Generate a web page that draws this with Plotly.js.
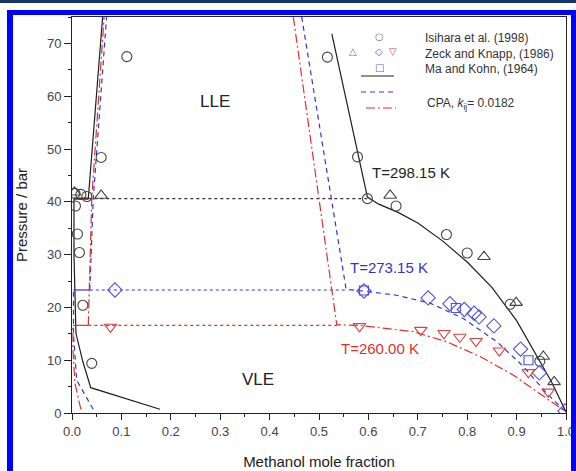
<!DOCTYPE html>
<html>
<head>
<meta charset="utf-8">
<script src="https://cdn.plot.ly/plotly-3.0.1.min.js"></script>
<style>
  html, body { margin: 0; padding: 0; background: #fff; }
  #wrap { position: relative; width: 576px; height: 471px; overflow: hidden; }
  #chart { position: absolute; left: 0; top: 0; width: 576px; height: 471px; }
  #navy { position: absolute; left: 0; top: 0; width: 576px; height: 3px; background: #12376a; z-index: 5; }
  #frame { position: absolute; left: 7px; top: 10px; width: 569px; height: 480px; box-sizing: border-box;
           border-left: 6px solid #0000ff; border-top: 5px solid #0000ff; border-right: 5px solid #0000ff; z-index: 5; pointer-events: none; }
</style>
</head>
<body>
<div id="wrap">
  <div id="chart"></div>
  <div id="navy"></div>
  <div id="frame"></div>
</div>
<script>
// ---------- Experimental data ----------
const isiharaX = [0.111, 0.059, 0.006, 0.018, 0.030, 0.007, 0.011, 0.015, 0.022, 0.040, 0.517, 0.578, 0.598, 0.656, 0.758, 0.800, 0.887, 0.947];
const isiharaP = [67.5, 48.4, 41.6, 41.4, 41.0, 39.2, 33.9, 30.4, 20.4, 9.4, 67.4, 48.5, 40.6, 39.2, 33.8, 30.3, 20.6, 9.8];

const zeck298X = [0.005, 0.059, 0.644, 0.834, 0.899, 0.954, 0.976];
const zeck298P = [41.8, 41.2, 41.2, 29.6, 20.9, 10.7, 5.9];

const zeck273X = [0.087, 0.591, 0.721, 0.765, 0.794, 0.814, 0.824, 0.854, 0.908, 0.946, 0.998];
const zeck273P = [23.3, 23.1, 21.8, 20.7, 19.6, 18.9, 18.2, 16.5, 12.1, 7.6, 0.4];

const zeck260X = [0.078, 0.582, 0.706, 0.753, 0.785, 0.818, 0.865, 0.924, 0.964];
const zeck260P = [16.3, 16.4, 15.7, 15.1, 14.4, 13.6, 11.8, 7.7, 4.0];

const maKohnX = [0.591, 0.777, 0.924];
const maKohnP = [23.2, 19.9, 10.0];

// ---------- CPA model, T = 298.15 K ----------
const cpa298LeftX = [0.178, 0.038, 0.022, 0.008, 0.004, 0.004];
const cpa298LeftP = [0.7, 4.8, 9.7, 15.1, 30.0, 40.6];
const cpa298TieSolidX = [0.004, 0.033];
const cpa298TieSolidP = [40.6, 40.6];
const cpa298LleLX = [0.033, 0.062];
const cpa298LleLP = [40.6, 75.0];
const cpa298RightX = [0.526, 0.598, 0.620, 0.660, 0.700, 0.750, 0.800, 0.850, 0.900, 0.940, 0.970, 1.000];
const cpa298RightP = [71.8, 40.9, 39.6, 38.0, 36.0, 32.6, 28.6, 23.8, 17.5, 10.9, 6.0, 0.2];
const tie298X = [0.033, 0.598];
const tie298P = [40.6, 40.6];

// ---------- CPA model, T = 273.15 K ----------
const cpa273LeftX = [0.043, 0.0095, 0.003, 0.003];
const cpa273LeftP = [0.7, 6.2, 15.0, 23.3];
const cpa273TieSolidX = [0.003, 0.036];
const cpa273TieSolidP = [23.3, 23.3];
const cpa273LleLX = [0.036, 0.043, 0.070];
const cpa273LleLP = [23.3, 40.6, 75.0];
const cpa273RightX = [0.465, 0.555, 0.590, 0.657, 0.725, 0.792, 0.860, 0.914, 0.961, 1.000];
const cpa273RightP = [75.0, 23.4, 23.1, 22.3, 20.8, 17.9, 13.5, 8.8, 3.7, 0.2];
const tie273X = [0.036, 0.555];
const tie273P = [23.3, 23.3];

// ---------- CPA model, T = 260.00 K ----------
const cpa260LeftX = [0.018, 0.006, 0.002, 0.002];
const cpa260LeftP = [0.7, 5.6, 12.0, 16.6];
const cpa260TieSolidX = [0.002, 0.033];
const cpa260TieSolidP = [16.6, 16.6];
const cpa260LleLX = [0.033, 0.040, 0.065];
const cpa260LleLP = [16.6, 40.6, 75.0];
const cpa260RightX = [0.448, 0.536, 0.582, 0.691, 0.758, 0.826, 0.893, 0.941, 1.000];
const cpa260RightP = [75.0, 16.7, 16.6, 15.4, 13.5, 10.7, 7.2, 4.0, 0.2];
const tie260X = [0.033, 0.536];
const tie260P = [16.6, 16.6];

// ---------- Axis ticks ----------
const xTickVals = [0, 0.1, 0.2, 0.3, 0.4, 0.5, 0.6, 0.7, 0.8, 0.9, 1.0];
const xTickText = ['0.0', '0.1', '0.2', '0.3', '0.4', '0.5', '0.6', '0.7', '0.8', '0.9', '1.0'];
const yTickVals = [0, 10, 20, 30, 40, 50, 60, 70];
const yTickText = ['0', '10', '20', '30', '40', '50', '60', '70'];

const BLACK = '#1e1e1e', BLUE = '#3434d6', RED = '#e2302c', GREY = '#444444';
const FONT = 'Liberation Sans, Arial, Helvetica, sans-serif';
const DASH = '5px,4px';
const DASHDOT = '9px,3px,2px,3px';

function line(x, y, color, dash, width) {
  return { x: x, y: y, type: 'scatter', mode: 'lines', hoverinfo: 'skip', showlegend: false,
           line: { color: color, dash: dash, width: width || 1.2 } };
}
function pts(x, y, symbol, color, size) {
  return { x: x, y: y, type: 'scatter', mode: 'markers', showlegend: false,
           marker: { symbol: symbol, size: size || 10, color: color, line: { color: color, width: 1.1 } } };
}

const traces = [
  line(tie298X, tie298P, '#333', 'dot', 1.2),
  line(tie273X, tie273P, BLUE, 'dot', 1.2),
  line(tie260X, tie260P, RED, 'dot', 1.2),
  line(cpa298LeftX, cpa298LeftP, BLACK, 'solid'),
  line(cpa298TieSolidX, cpa298TieSolidP, '#6b1a10', 'solid', 2.2),
  line(cpa298LleLX, cpa298LleLP, BLACK, 'solid'),
  line(cpa298RightX, cpa298RightP, BLACK, 'solid'),
  line(cpa273LeftX, cpa273LeftP, BLUE, DASH),
  line(cpa273TieSolidX, cpa273TieSolidP, BLUE, 'solid'),
  line(cpa273LleLX, cpa273LleLP, BLUE, DASH),
  line(cpa273RightX, cpa273RightP, BLUE, DASH),
  line(cpa260LeftX, cpa260LeftP, RED, DASHDOT),
  line(cpa260TieSolidX, cpa260TieSolidP, RED, 'solid'),
  line(cpa260LleLX, cpa260LleLP, RED, DASHDOT),
  line(cpa260RightX, cpa260RightP, RED, DASHDOT),
  pts(isiharaX, isiharaP, 'circle-open', GREY, 10),
  pts(zeck298X, zeck298P, 'triangle-up-open', GREY, 11),
  pts(zeck273X, zeck273P, 'diamond-open', '#5050e0', 11),
  pts(zeck260X, zeck260P, 'triangle-down-open', '#e04040', 11),
  pts(maKohnX, maKohnP, 'square-open', '#5050e0', 9)
];

// paper-coordinate helpers (plot area: x 72..566, y 17..413)
const px = v => (v - 72) / 494;
const py = v => (413 - v) / 396;

const annotations = [
  { x: 0.29, y: 59, text: 'LLE', showarrow: false, font: { size: 17, color: '#222', family: FONT } },
  { x: 0.377, y: 6.4, text: 'VLE', showarrow: false, font: { size: 17, color: '#222', family: FONT } },
  { x: 0.603, y: 45.6, text: 'T=298.15 K', xanchor: 'left', showarrow: false, font: { size: 15, color: '#222', family: FONT } },
  { x: 0.558, y: 27.6, text: 'T=273.15 K', xanchor: 'left', showarrow: false, font: { size: 15, color: '#3434cc', family: FONT } },
  { x: 0.541, y: 12.3, text: 'T=260.00 K', xanchor: 'left', showarrow: false, font: { size: 15, color: '#e03030', family: FONT } },
  // legend
  { xref: 'paper', yref: 'paper', x: px(379), y: py(29), text: '○', showarrow: false, font: { size: 10, color: '#777', family: 'DejaVu Sans' } },
  { xref: 'paper', yref: 'paper', x: px(353), y: py(44), text: '△', showarrow: false, font: { size: 10, color: '#777', family: 'DejaVu Sans' } },
  { xref: 'paper', yref: 'paper', x: px(379), y: py(44), text: '◇', showarrow: false, font: { size: 10, color: '#6060e0', family: 'DejaVu Sans' } },
  { xref: 'paper', yref: 'paper', x: px(393), y: py(44), text: '▽', showarrow: false, font: { size: 10, color: '#e04040', family: 'DejaVu Sans' } },
  { xref: 'paper', yref: 'paper', x: px(379), y: py(60), text: '□', showarrow: false, font: { size: 10, color: '#6060e0', family: 'DejaVu Sans' } },
  { xref: 'paper', yref: 'paper', x: px(423), y: py(29), xanchor: 'left', text: 'Isihara et al. (1998)', showarrow: false, font: { size: 12, color: '#333', family: FONT } },
  { xref: 'paper', yref: 'paper', x: px(423), y: py(45), xanchor: 'left', text: 'Zeck and Knapp, (1986)', showarrow: false, font: { size: 12, color: '#333', family: FONT } },
  { xref: 'paper', yref: 'paper', x: px(423), y: py(60), xanchor: 'left', text: 'Ma and Kohn, (1964)', showarrow: false, font: { size: 12, color: '#333', family: FONT } },
  { xref: 'paper', yref: 'paper', x: px(425), y: py(94), xanchor: 'left', text: 'CPA, <i>k</i><sub>ij</sub>= 0.0182', showarrow: false, font: { size: 12, color: '#333', family: FONT } }
];

const shapes = [
  { type: 'line', xref: 'paper', yref: 'paper', x0: px(361), x1: px(394), y0: py(76), y1: py(76), line: { color: BLACK, width: 1.2 } },
  { type: 'line', xref: 'paper', yref: 'paper', x0: px(361), x1: px(394), y0: py(92), y1: py(92), line: { color: BLUE, width: 1.2, dash: DASH } },
  { type: 'line', xref: 'paper', yref: 'paper', x0: px(366), x1: px(396), y0: py(108), y1: py(108), line: { color: RED, width: 1.2, dash: DASHDOT } }
];

const layout = {
  width: 576, height: 471,
  margin: { l: 72, r: 10, t: 17, b: 58 },
  paper_bgcolor: '#ffffff', plot_bgcolor: '#ffffff',
  font: { family: FONT, color: '#333' },
  showlegend: false,
  xaxis: {
    range: [0, 1.0], tickvals: xTickVals, ticktext: xTickText,
    ticks: 'outside', ticklen: 6, tickwidth: 1, tickcolor: '#222',
    minor: { dtick: 0.05, tick0: 0, ticks: 'outside', ticklen: 3, tickcolor: '#222' },
    showline: true, linecolor: '#222', linewidth: 1, mirror: true,
    showgrid: false, zeroline: false,
    tickfont: { size: 13, color: '#444', family: FONT },
    title: { text: 'Methanol mole fraction', font: { size: 15, color: '#222', family: FONT }, standoff: 18 }
  },
  yaxis: {
    range: [0, 75], tickvals: yTickVals, ticktext: yTickText,
    ticks: 'outside', ticklen: 7, tickwidth: 1, tickcolor: '#222',
    minor: { dtick: 5, tick0: 0, ticks: 'outside', ticklen: 3, tickcolor: '#222' },
    showline: true, linecolor: '#222', linewidth: 1, mirror: true,
    showgrid: false, zeroline: false,
    tickfont: { size: 13, color: '#444', family: FONT },
    title: { text: 'Pressure / bar', font: { size: 15, color: '#222', family: FONT }, standoff: 15 }
  },
  annotations: annotations,
  shapes: shapes
};

Plotly.newPlot('chart', traces, layout, { displayModeBar: false, staticPlot: true });
</script>
</body>
</html>
